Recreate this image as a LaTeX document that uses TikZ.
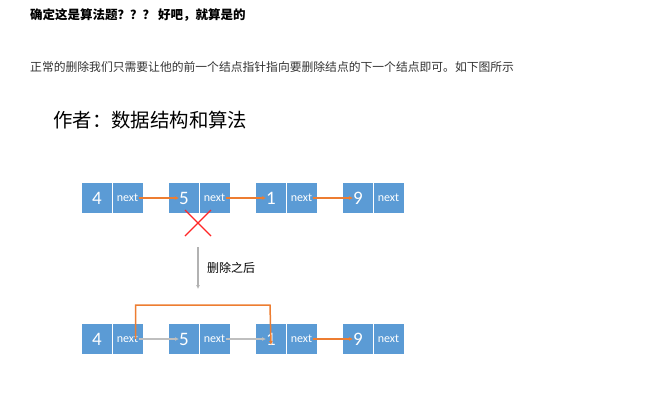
\documentclass[tikz,border=0pt]{standalone}
\usepackage{fontspec}
\newfontfamily\cjk{Noto Sans CJK SC}
\newfontfamily\carlitofont{Carlito}
\usetikzlibrary{arrows.meta}
\definecolor{bl}{HTML}{5B9BD5}
\definecolor{org}{HTML}{ED7D31}
\begin{document}
\begin{tikzpicture}[x=1pt,y=-1pt,
 cell/.style={fill=bl,draw=white,line width=0.6pt,minimum width=31pt,minimum height=31pt,inner sep=0pt,text=white},
 val/.style={cell,font=\carlitofont\fontsize{19}{19}\selectfont},
 nx/.style={cell,font=\carlitofont\fontsize{12}{12}\selectfont},
 oa/.style={draw=org,line width=1.5pt,-{Latex[length=4pt,width=4pt]}},
 ga/.style={draw=black!25,line width=1.2pt,-{Latex[length=4pt,width=4pt]}},
 txt/.style={anchor=west,inner sep=0pt}]
\useasboundingbox (0,0) rectangle (660,400);
\fill[white] (0,0) rectangle (660,400);
\node[txt,font=\cjk\bfseries\fontsize{12.5}{13}\selectfont] (t) at (30,15) {确定这是算法题？？？ 好吧，就算是的};
\node[txt,font=\cjk\fontsize{11.8}{12}\selectfont,text=black!80] (p) at (30,67) {正常的删除我们只需要让他的前一个结点指针指向要删除结点的下一个结点即可。如下图所示};
\node[txt,font=\cjk\fontsize{19.4}{20}\selectfont] (a) at (53,120) {作者：数据结构和算法};
\foreach \r/\y in {a/198,b/339}{
 \node[val] (\r4) at (97,\y) {4}; \node[nx] (\r4n) at (127.5,\y) {next};
 \node[val] (\r5) at (184,\y) {5}; \node[nx] (\r5n) at (214.5,\y) {next};
 \node[val] (\r1) at (271,\y) {1}; \node[nx] (\r1n) at (301.5,\y) {next};
 \node[val] (\r9) at (358,\y) {9}; \node[nx] (\r9n) at (388.5,\y) {next};
}
\draw[oa] ([xshift=11pt]a4n.center) -- ([xshift=-5pt]a5.center);
\draw[oa] ([xshift=11pt]a5n.center) -- ([xshift=-5pt]a1.center);
\draw[oa] ([xshift=11pt]a1n.center) -- ([xshift=-5pt]a9.center);
\draw[red!80!pink,line width=1.2pt] (185,210) -- (211,236) (211,210) -- (185,236);
\coordinate (g1) at (198,247); \coordinate (g2) at (198,289);
\draw[draw=black!30,line width=1.2pt,-{Latex[length=4pt,width=4pt]}] (g1) -- (g2);
\node[txt,font=\cjk\fontsize{12}{12}\selectfont] (l) at (207,268) {删除之后};
\draw[ga] ([xshift=11pt]b4n.center) -- ([xshift=-5pt]b5.center);
\draw[ga] ([xshift=11pt]b5n.center) -- ([xshift=-5pt]b1.center);
\draw[oa] ([xshift=11pt]b1n.center) -- ([xshift=-5pt]b9.center);
\draw[oa] ([xshift=8pt]b4n.center) |- (270,305) -- ([yshift=-6pt]b1.center);
\end{tikzpicture}
\end{document}
